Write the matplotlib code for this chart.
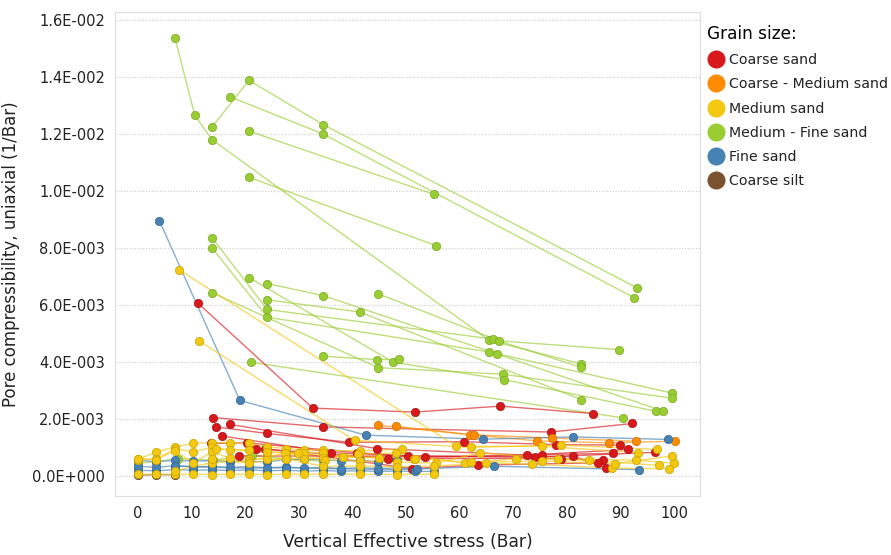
import matplotlib.pyplot as plt
from matplotlib.lines import Line2D
from matplotlib.ticker import FuncFormatter

# grain size classes and their colours
classes = ['Coarse sand', 'Coarse - Medium sand', 'Medium sand',
           'Medium - Fine sand', 'Fine sand', 'Coarse silt']
class_colors = ['#d7191c', '#ff8c00', '#f2c811', '#9acd32', '#4682b4', '#7b5230']
edge_colors = ['#a81216', '#cc6f00', '#c9a400', '#7aa826', '#35648c', '#5a3c22']

# Medium - Fine sand samples: stress (Bar) / pore compressibility (1/Bar)
mf_stress = [
    [6.9, 10.6, 13.8, 65.5, 82.7],
    [13.8, 20.7, 34.5, 93.1],
    [17.2, 34.5, 92.6],
    [20.7, 55.2],
    [20.7, 55.6],
    [13.8, 24.1, 66.2, 82.7],
    [13.8, 24.1, 65.5, 99.6],
    [13.8, 44.8, 68.0, 99.6],
    [20.7, 47.6, 68.3, 96.6],
    [24.1, 34.5, 67.0, 98.0],
    [44.8, 67.4, 89.8],
    [24.1, 41.4, 82.7],
    [34.5, 44.6, 48.6],
    [21.0, 90.4],
    [0.0, 3.4, 7.5, 14.0, 21.2, 27.6, 34.5],
]
mf_comp = [
    [0.01536, 0.01265, 0.0118, 0.00476, 0.00393],
    [0.01224, 0.01388, 0.01233, 0.0066],
    [0.0133, 0.0120, 0.00625],
    [0.0121, 0.00988],
    [0.01048, 0.00808],
    [0.00836, 0.00584, 0.0048, 0.00381],
    [0.0080, 0.00557, 0.00435, 0.00291],
    [0.00643, 0.0038, 0.00357, 0.00273],
    [0.00696, 0.00399, 0.00338, 0.00227],
    [0.00675, 0.00633, 0.00428, 0.00227],
    [0.00639, 0.00474, 0.00443],
    [0.00618, 0.00575, 0.00268],
    [0.0042, 0.00408, 0.00409],
    [0.00399, 0.00204],
    [0.00045, 0.0005, 0.00061, 0.00055, 0.00073, 0.0006, 0.00052],
]

# Coarse sand
cs_stress = [
    [11.25, 32.6, 51.6, 67.6, 84.8],
    [13.9, 34.6, 77.0, 92.2],
    [14.5, 24.1, 39.4, 60.9, 77.9, 90.0],
    [17.1, 44.6, 72.6, 91.5],
    [15.7, 36.0, 50.4, 74.0, 96.5],
    [13.6, 20.3, 40.8, 53.5, 75.4, 88.7],
    [22.0, 46.7, 79.0, 86.8],
    [23.7, 51.1, 63.5, 85.9],
    [18.8, 81.2, 87.3],
]
cs_comp = [
    [0.00605, 0.00238, 0.00224, 0.00245, 0.00219],
    [0.00205, 0.00172, 0.00154, 0.00184],
    [0.00172, 0.00149, 0.00118, 0.0012, 0.0011, 0.00108],
    [0.00181, 0.00096, 0.00073, 0.00093],
    [0.0014, 0.00082, 0.0007, 0.00065, 0.00083],
    [0.00114, 0.00116, 0.00082, 0.00065, 0.00075, 0.00079],
    [0.00096, 0.00061, 0.00061, 0.00055],
    [0.00096, 0.00026, 0.00038, 0.00046],
    [0.0007, 0.00069, 0.00028],
]

# Coarse - Medium sand
cms_stress = [
    [44.8, 62.0, 77.2, 92.9],
    [48.1, 62.7, 74.5, 87.9, 100.2],
]
cms_comp = [
    [0.00178, 0.00145, 0.00133, 0.00122],
    [0.00174, 0.00143, 0.00123, 0.00116, 0.00122],
]

# Medium sand
ms_stress = [
    [7.6, 59.4, 75.4, 93.2],
    [11.3, 40.4, 62.2, 78.9, 96.9],
    [0.0, 3.4, 6.9, 10.3, 13.8, 17.2, 20.7, 24.1, 27.6, 31.0, 34.5, 41.4, 49.2],
    [0.0, 3.4, 6.9, 10.3, 13.8, 17.2, 20.7, 24.1, 27.6, 31.0, 34.5, 38.2, 45.0, 51.5],
    [0.0, 3.4, 6.9, 10.3, 13.8, 17.2, 20.7, 24.1, 27.6, 31.0, 34.5, 41.4, 48.3, 55.2],
    [0.0, 3.4, 6.9, 10.3, 13.8, 17.2, 20.7, 24.1, 27.6, 31.0, 34.5, 41.1, 48.2, 61.0, 70.6, 84.2, 97.1],
    [6.9, 13.8, 20.7, 27.4, 34.9, 41.4, 48.3, 55.6, 63.8, 78.4, 92.9, 100.0],
    [13.8, 20.7, 27.6, 34.5, 41.4, 48.3, 55.2, 65.0, 73.5, 88.5, 99.1],
    [14.6, 24.1, 29.9, 38.2, 45.0, 51.7, 62.2, 75.4, 89.0, 99.6],
]
ms_comp = [
    [0.00724, 0.00104, 0.00104, 0.00082],
    [0.00475, 0.00125, 0.001, 0.00108, 0.00093],
    [0.00058, 0.00084, 0.00102, 0.00114, 0.00117, 0.00117, 0.00114, 0.00102,
     0.00096, 0.00092, 0.0009, 0.00088, 0.00094],
    [0.00057, 0.0006, 0.00095, 0.00085, 0.001, 0.0009, 0.00092, 0.00085,
     0.00081, 0.00082, 0.00081, 0.00067, 0.00064, 0.0006],
    [0.00006, 0.00006, 0.00006, 0.00006, 0.00005, 0.00006, 0.00006, 0.00005,
     0.00006, 0.00006, 0.00006, 0.00006, 0.00005, 0.00006],
    [0.00061, 0.00057, 0.00089, 0.00046, 0.00084, 0.00062, 0.00061, 0.00058,
     0.00063, 0.0006, 0.00062, 0.00076, 0.00081, 0.00044, 0.00061, 0.00055, 0.00037],
    [0.00018, 0.00047, 0.00052, 0.00081, 0.00057, 0.00052, 0.00049, 0.00045,
     0.00081, 0.00061, 0.00055, 0.00045],
    [0.0006, 0.00045, 0.00061, 0.00034, 0.00035, 0.00032, 0.00035, 0.00045,
     0.00041, 0.00028, 0.00025],
    [0.00095, 0.00084, 0.00079, 0.00067, 0.00064, 0.00061, 0.00048, 0.00052,
     0.00043, 0.0007],
]

# Fine sand
fs_stress = [
    [4.0, 19.0, 42.5, 64.4, 81.1, 98.9],
    [0.0, 3.4, 6.9, 10.3, 13.8, 17.2, 20.7, 24.1, 27.6, 31.0, 34.5, 37.9, 41.4, 44.8, 48.3],
    [0.0, 3.4, 6.9, 10.3, 13.8, 17.2, 20.7, 24.1, 27.6, 31.0, 34.5, 37.9, 41.4, 44.8, 48.3, 51.7, 55.2],
    [0.0, 3.4, 6.9, 10.3, 13.8, 17.2, 20.7, 24.1, 27.6, 31.0, 34.5, 37.9, 41.4, 44.8, 48.3, 52.1],
    [6.9, 13.8, 20.7, 27.6, 34.5, 41.4, 48.3, 66.5, 93.4],
]
fs_comp = [
    [0.00895, 0.00265, 0.00143, 0.00129, 0.00137, 0.00128],
    [0.00055, 0.0005, 0.00055, 0.00052, 0.00054, 0.0005, 0.00052, 0.00049,
     0.00058, 0.00058, 0.00058, 0.00052, 0.00055, 0.0005, 0.00055],
    [0.0002, 0.00018, 0.00022, 0.0002, 0.00021, 0.00019, 0.00021, 0.00018,
     0.0002, 0.00017, 0.00019, 0.00017, 0.00018, 0.00016, 0.00017, 0.00016, 0.00016],
    [0.00034, 0.0003, 0.00036, 0.00031, 0.00034, 0.0003, 0.00033, 0.00029,
     0.00031, 0.00028, 0.0003, 0.00026, 0.00029, 0.00026, 0.00028, 0.00025],
    [0.00036, 0.0003, 0.00027, 0.00029, 0.00026, 0.00024, 0.00022, 0.00034, 0.00022],
]

# Coarse silt
csilt_stress = [[0.0, 3.4, 6.9]]
csilt_comp = [[0.00003, 0.00004, 0.00004]]

groups = [
    (3, mf_stress, mf_comp),
    (0, cs_stress, cs_comp),
    (1, cms_stress, cms_comp),
    (5, csilt_stress, csilt_comp),
    (4, fs_stress, fs_comp),
    (2, ms_stress, ms_comp),
]


def sci_label(v, pos):
    if abs(v) < 1e-12:
        return '0.0E+000'
    s = f'{v:.1E}'
    mant, exp = s.split('E')
    sign = exp[0]
    return f'{mant}E{sign}{int(exp[1:]):03d}'


fig = plt.figure(figsize=(8.91, 5.55), dpi=100)
ax = fig.add_axes([0.129, 0.106, 0.657, 0.872])

for ci, xs_list, ys_list in groups:
    for xs, ys in zip(xs_list, ys_list):
        ax.plot(xs, ys, '-', color=class_colors[ci], lw=1.0, alpha=0.65, zorder=2)
        ax.plot(xs, ys, 'o', color=class_colors[ci], ms=6,
                mec=edge_colors[ci], mew=0.5, zorder=3)

ax.set_xlim(-4.3, 104.9)
ax.set_ylim(-0.00071, 0.01627)
ax.set_xticks(range(0, 101, 10))
ax.set_yticks([i * 0.002 for i in range(9)])
ax.yaxis.set_major_formatter(FuncFormatter(sci_label))
ax.tick_params(length=0, labelsize=10.5, colors='#222222', pad=7)
ax.grid(axis='y', color='#cccccc', linestyle=(0, (1, 1.5)), lw=0.8)
ax.set_axisbelow(True)
for sp in ax.spines.values():
    sp.set_color('#dddddd')
    sp.set_linewidth(0.8)

ax.set_xlabel('Vertical Effective stress (Bar)', fontsize=12.3, color='#222222', labelpad=9)
ax.set_ylabel('Pore compressibility, uniaxial (1/Bar)', fontsize=12, color='#222222', labelpad=9)

handles = [Line2D([], [], ls='none', marker='o', ms=12, color=c, mec=c)
           for c in class_colors]
leg = fig.legend(handles, classes, title='Grain size:', loc='upper left',
                 bbox_to_anchor=(707 / 891, 1 - 25 / 555), frameon=False,
                 fontsize=10.2, title_fontsize=12.2, handletextpad=0.25,
                 labelspacing=0.72, borderaxespad=0, borderpad=0,
                 handlelength=1.3)
leg._legend_box.align = 'left'
for t in leg.get_texts():
    t.set_color('#222222')

fig.savefig('out.png', dpi=100)
